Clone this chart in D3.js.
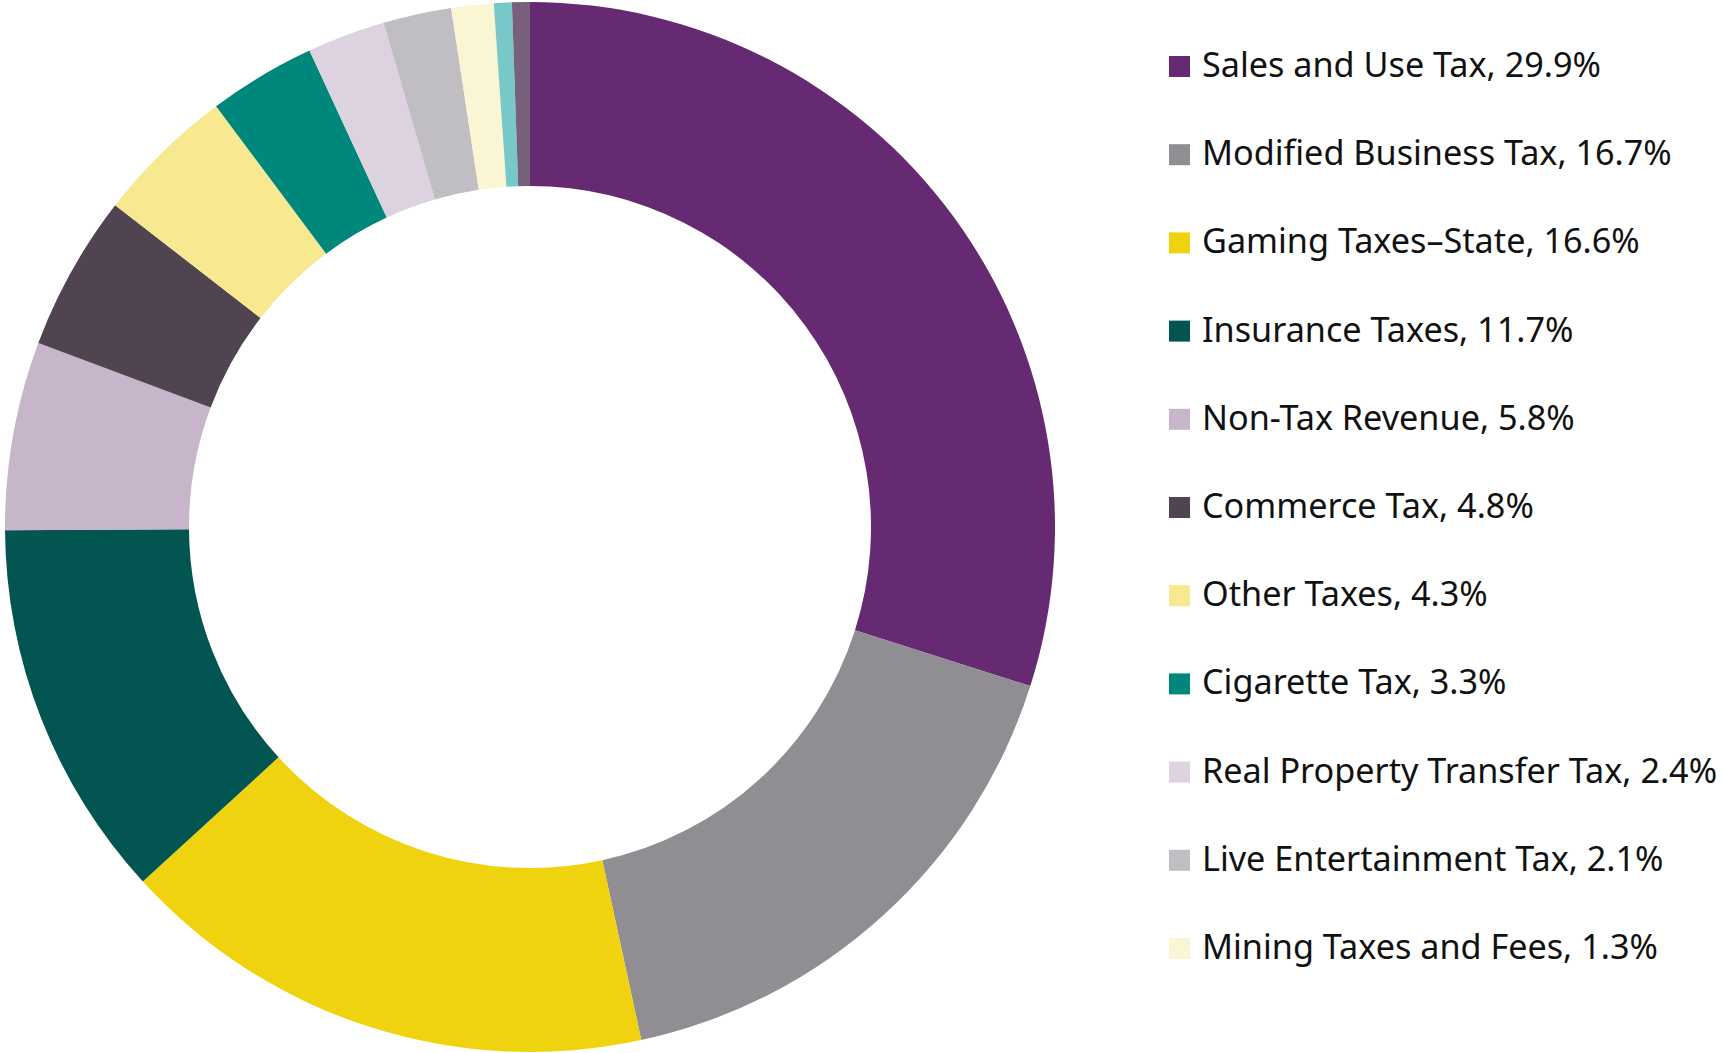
<!DOCTYPE html>
<html>
<head>
<meta charset="utf-8">
<script src="https://cdn.jsdelivr.net/npm/d3@7"></script>
<style>
  body { margin: 0; background: #fff; }
  svg { display: block; }
</style>
</head>
<body>
<svg id="chart" width="1724" height="1053"></svg>
<script>
// slice names, in clockwise order from 12 o'clock
var categories = [
  "Sales and Use Tax", "Modified Business Tax", "Gaming Taxes\u2013State",
  "Insurance Taxes", "Non-Tax Revenue", "Commerce Tax", "Other Taxes",
  "Cigarette Tax", "Real Property Transfer Tax", "Live Entertainment Tax",
  "Mining Taxes and Fees", "Other A", "Other B"
];
// percent of total
var shares = [29.9, 16.7, 16.6, 11.7, 5.8, 4.8, 4.3, 3.3, 2.4, 2.1, 1.3, 0.55, 0.55];
var colors = [
  "#662a73", "#908d93", "#f0d30f", "#025550", "#c7b5c9", "#4f444f", "#f8e88f",
  "#00877c", "#ddd3e0", "#c0bec3", "#faf5d3", "#78c8c9", "#76607a"
];
// only these appear in the legend
var legendCount = 11;

var svg = d3.select("#chart"),
    cx = 530, cy = 527,
    outerR = 525, innerR = 341;

var data = categories.map(function(c, i) {
  return {name: c, value: shares[i], color: colors[i]};
});

var pie = d3.pie().sort(null).value(function(d) { return d.value; });
var arc = d3.arc().innerRadius(innerR).outerRadius(outerR);

var g = svg.append("g").attr("transform", "translate(" + cx + "," + cy + ")");

g.selectAll("path")
  .data(pie(data))
  .enter().append("path")
  .attr("d", arc)
  .attr("fill", function(d) { return d.data.color; });

// legend
var y = d3.scalePoint()
  .domain(d3.range(legendCount))
  .range([77, 77 + 88.2 * (legendCount - 1)]);

var legend = svg.append("g")
  .attr("font-family", "'Noto Sans', sans-serif")
  .attr("font-size", 34.2)
  .selectAll("g")
  .data(data.slice(0, legendCount))
  .enter().append("g")
  .attr("transform", function(d, i) { return "translate(1169," + y(i) + ")"; });

legend.append("rect")
  .attr("x", 0)
  .attr("y", -21)
  .attr("width", 21)
  .attr("height", 21)
  .attr("fill", function(d) { return d.color; });

legend.append("text")
  .attr("x", 33)
  .attr("y", 0)
  .attr("fill", "#111")
  .text(function(d) { return d.name + ", " + d.value + "%"; });
</script>
</body>
</html>
